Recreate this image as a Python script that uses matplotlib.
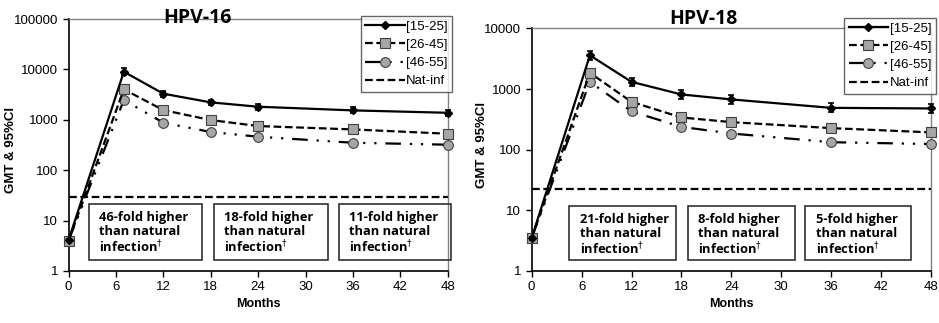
import numpy as np
import matplotlib
matplotlib.use("Agg")
import matplotlib.pyplot as plt
from matplotlib.patches import Rectangle
from matplotlib.lines import Line2D
import matplotlib.transforms as mtransforms

plt.rcParams['font.family'] = ['Liberation Sans', 'DejaVu Sans']

months = [0, 7, 12, 18, 24, 36, 48]
groups = ['[15-25]', '[26-45]', '[46-55]']

# HPV-16 GMT values
hpv16_1525 = [4.1, 9000, 3300, 2220, 1820, 1540, 1380]
hpv16_1525_lo = [3.9, 7600, 2900, 1950, 1600, 1350, 1210]
hpv16_1525_hi = [4.3, 10600, 3750, 2520, 2070, 1760, 1570]
hpv16_2645 = [4.0, 4030, 1560, 990, 753, 645, 530]
hpv16_4655 = [4.0, 2470, 877, 573, 462, 351, 321]
hpv16_natinf = 30

# HPV-18
hpv18_1525 = [3.5, 3600, 1315, 815, 675, 490, 479]
hpv18_1525_lo = [3.3, 3050, 1130, 690, 570, 415, 405]
hpv18_1525_hi = [3.7, 4250, 1530, 960, 800, 580, 565]
hpv18_2645 = [3.5, 1850, 615, 340, 285, 227, 193]
hpv18_4655 = [3.5, 1315, 428, 238, 185, 133, 124]
hpv18_natinf = 22.7

hpv16_boxes = ['46-fold higher', '18-fold higher', '11-fold higher']
hpv18_boxes = ['21-fold higher', '8-fold higher', '5-fold higher']

fig = plt.figure(figsize=(9.39, 3.23), dpi=100)
ax1 = fig.add_axes([0.0730, 0.161, 0.4038, 0.780])
ax2 = fig.add_axes([0.5662, 0.161, 0.4253, 0.751])

gray = '#a6a6a6'
boxfont = dict(family=['Open Sans', 'DejaVu Sans'], fontsize=9.3, weight='bold')


def draw_panel(ax, y1525, lo, hi, y2645, y4655, natinf, title, ylim, box_x, box_txt,
               title_x, title_y, leg_y, ylab_xy):
    err = [np.array(y1525) - np.array(lo), np.array(hi) - np.array(y1525)]
    ax.errorbar(months, y1525, yerr=err, color='black', lw=1.6, marker='D', ms=4,
                capsize=2.5, elinewidth=1.2, capthick=1.2, clip_on=False, zorder=5)
    h2, = ax.plot(months, y2645, color='black', lw=1.6, ls=(0, (3.5, 1.6)), marker='s', ms=7,
                  mfc=gray, mec='#404040', mew=0.8, clip_on=False, zorder=4)
    h3, = ax.plot(months, y4655, color='black', lw=1.6, ls=(0, (7, 4, 1, 4, 1, 4)), marker='o', ms=7,
                  mfc=gray, mec='#404040', mew=0.8, clip_on=False, zorder=3)
    h4, = ax.plot([0, 48], [natinf, natinf], color='black', lw=1.6, ls=(0, (3.5, 1.6)))
    h1 = Line2D([], [], color='black', lw=1.6, marker='D', ms=4)

    ax.set_yscale('log')
    ax.set_ylim(*ylim)
    ax.set_xlim(0, 48)
    ax.set_xticks(range(0, 49, 6))
    ax.yaxis.set_major_formatter(matplotlib.ticker.FuncFormatter(lambda v, p: '%d' % v))
    ax.yaxis.set_minor_locator(matplotlib.ticker.NullLocator())
    ax.tick_params(labelsize=9.5, length=4, width=1, direction='out')
    ax.spines['left'].set_linewidth(1.2)
    ax.spines['bottom'].set_linewidth(1.2)
    ax.spines['top'].set_color('#808080')
    ax.spines['right'].set_color('#808080')
    ax.spines['top'].set_linewidth(1.0)
    ax.spines['right'].set_linewidth(1.0)
    ax.set_xlabel('Months', fontsize=9, weight='bold', labelpad=3)
    ax.set_ylabel('GMT & 95%CI', fontsize=9.5, weight='bold')
    ax.yaxis.set_label_coords(*ylab_xy)

    leg = ax.legend([h1, h2, h3, h4], groups + ['Nat-inf'], loc='upper right',
                    bbox_to_anchor=(1.012, leg_y), fontsize=9.5, frameon=True,
                    fancybox=False, edgecolor='#404040', handlelength=3.0, handletextpad=0.1,
                    borderpad=0.35, labelspacing=0.45, borderaxespad=0)
    leg.get_frame().set_linewidth(1.0)

    ax.text(title_x, title_y, title, transform=ax.transAxes, ha='center', va='center',
            family=['Open Sans', 'DejaVu Sans'], fontsize=14, weight='bold')

    trans = mtransforms.blended_transform_factory(ax.transData, ax.transAxes)
    for (x0, x1), t in zip(box_x, box_txt):
        ax.add_patch(Rectangle((x0, 0.044), x1 - x0, 0.222, transform=trans, fill=False,
                               ec='#303030', lw=1.2, clip_on=False, zorder=6))
        ax.text(x0 + 1.3, 0.238, t + '\nthan natural\ninfection$^{\\dagger}$', transform=trans,
                ha='left', va='top', linespacing=1.08, zorder=7, **boxfont)


draw_panel(ax1, hpv16_1525, hpv16_1525_lo, hpv16_1525_hi, hpv16_2645, hpv16_4655, hpv16_natinf,
           'HPV-16', (1, 100000), [(2.6, 16.9), (18.4, 32.9), (34.2, 48.4)], hpv16_boxes,
           0.339, 1.005, 1.012, (-0.136, 0.48))
draw_panel(ax2, hpv18_1525, hpv18_1525_lo, hpv18_1525_hi, hpv18_2645, hpv18_4655, hpv18_natinf,
           'HPV-18', (1, 10000), [(4.5, 17.3), (18.75, 31.7), (32.9, 45.6)], hpv18_boxes,
           0.429, 1.04, 1.044, (-0.109, 0.52))

fig.savefig('out.png', dpi=100)
